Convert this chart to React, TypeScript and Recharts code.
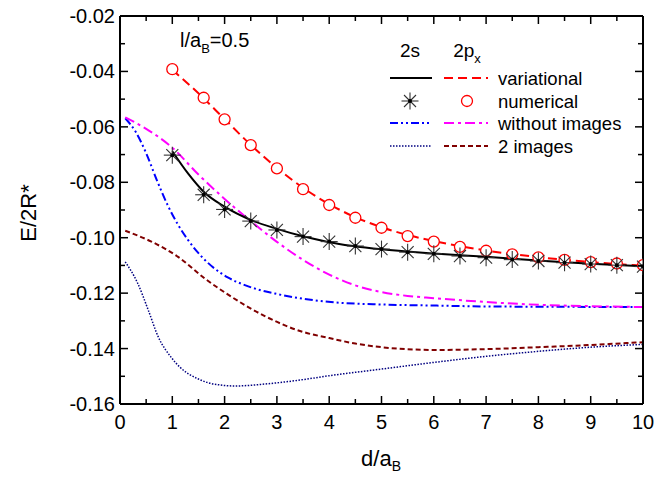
import { ComposedChart, Line, Scatter, XAxis, YAxis } from 'recharts';

// 2s variational (solid black)
const s2VarX = [1, 1.3, 1.6, 2, 2.5, 3, 3.5, 4, 5, 6, 7, 8, 9, 10];
const s2VarY = [-0.0688, -0.0768, -0.0834, -0.0888, -0.0936, -0.0968, -0.0995, -0.1016, -0.1042, -0.1057, -0.1069, -0.1082, -0.1094, -0.1103];

// numerical points, both states share the same d values
const numX = [1, 1.6, 2, 2.5, 3, 3.5, 4, 4.5, 5, 5.5, 6, 6.5, 7, 7.5, 8, 8.5, 9, 9.5, 10];
const s2NumY = [-0.0702, -0.0845, -0.0898, -0.094, -0.0972, -0.0996, -0.1014, -0.103, -0.1041, -0.1052, -0.1058, -0.1066, -0.1072, -0.1079, -0.1084, -0.109, -0.1095, -0.1099, -0.1104];
const pxNumY = [-0.0392, -0.0495, -0.0573, -0.0666, -0.075, -0.0825, -0.0882, -0.0928, -0.0964, -0.0994, -0.1014, -0.1033, -0.1047, -0.106, -0.1071, -0.108, -0.1088, -0.1093, -0.1099];

// 2px variational (red dashed)
const pxVarX = [1, 1.5, 2, 2.5, 3, 3.5, 4, 4.5, 5, 5.5, 6, 7, 8, 9, 10];
const pxVarY = [-0.0394, -0.0479, -0.0572, -0.0665, -0.0748, -0.082, -0.0879, -0.0926, -0.0962, -0.099, -0.1012, -0.1046, -0.107, -0.1088, -0.1101];

// without images
const s2NoImgX = [0.1, 0.3, 0.5, 0.7, 0.9, 1.1, 1.3, 1.56, 1.8, 2.06, 2.4, 2.64, 3, 3.57, 4.21, 4.84, 6.06, 7, 8, 10];
const s2NoImgY = [-0.0569, -0.0618, -0.0695, -0.079, -0.0878, -0.095, -0.1008, -0.1068, -0.111, -0.1143, -0.1172, -0.1187, -0.1203, -0.1222, -0.1235, -0.124, -0.1245, -0.1248, -0.1249, -0.125];
const pxNoImgX = [0.1, 0.5, 1.0, 1.5, 2.0, 2.5, 3.0, 3.5, 4.0, 4.5, 5.0, 5.5, 6.0, 7, 8, 9, 10];
const pxNoImgY = [-0.0566, -0.0607, -0.0675, -0.0772, -0.086, -0.094, -0.1015, -0.108, -0.1133, -0.1172, -0.1196, -0.121, -0.1218, -0.1232, -0.1242, -0.1247, -0.125];

// 2 images
const s2ImgX = [0.1, 0.34, 0.54, 0.73, 0.98, 1.15, 1.3, 1.5, 1.68, 1.9, 2.19, 2.77, 3.5, 4, 5, 6, 7, 8, 9, 10];
const s2ImgY = [-0.1087, -0.1165, -0.1261, -0.1357, -0.1432, -0.1468, -0.149, -0.151, -0.1523, -0.1531, -0.1535, -0.1528, -0.1512, -0.1498, -0.1474, -0.145, -0.1428, -0.141, -0.1395, -0.1385];
const pxImgX = [0.1, 0.6, 1.11, 1.62, 2.13, 2.77, 3.5, 4, 4.5, 5, 6, 7, 8, 9, 10];
const pxImgY = [-0.0975, -0.1014, -0.1069, -0.1147, -0.1213, -0.1283, -0.134, -0.1362, -0.1382, -0.1395, -0.1405, -0.1402, -0.1395, -0.1387, -0.1377];

const xTicks = [0, 0.5, 1, 1.5, 2, 2.5, 3, 3.5, 4, 4.5, 5, 5.5, 6, 6.5, 7, 7.5, 8, 8.5, 9, 9.5, 10];
const yTicks = [-0.16, -0.15, -0.14, -0.13, -0.12, -0.11, -0.1, -0.09, -0.08, -0.07, -0.06, -0.05, -0.04, -0.03, -0.02];
const yMajor = ['-0.16', '-0.14', '-0.12', '-0.10', '-0.08', '-0.06', '-0.04', '-0.02'];

const zip = (xs: number[], ys: number[]) => xs.map((x, i) => ({ x, y: ys[i] }));

const FONT = 'Liberation Sans, Arial, sans-serif';
const isMajorX = (v: number) => Number.isInteger(v);
const yLabel = (v: number) => yMajor.find((s) => Math.abs(parseFloat(s) - v) < 1e-6);

const BottomTick = ({ x, y, payload }: any) => (
    <g>
        <line x1={x} x2={x} y1={y} y2={y - (isMajorX(payload.value) ? 8 : 5)} stroke="#000" strokeWidth={1.5} />
        {isMajorX(payload.value) && (
            <text x={x} y={y + 25} textAnchor="middle" fontSize={20} fontFamily={FONT} fill="#000">
                {payload.value}
            </text>
        )}
    </g>
);
const TopTick = ({ x, y, payload }: any) => (
    <line x1={x} x2={x} y1={y} y2={y + (isMajorX(payload.value) ? 8 : 5)} stroke="#000" strokeWidth={1.5} />
);
const LeftTick = ({ x, y, payload }: any) => {
    const lab = yLabel(payload.value);
    return (
        <g>
            <line x1={x} x2={x + (lab ? 8 : 5)} y1={y} y2={y} stroke="#000" strokeWidth={1.5} />
            {lab && (
                <text x={x - 5} y={y + 7} textAnchor="end" fontSize={20} fontFamily={FONT} fill="#000">
                    {lab}
                </text>
            )}
        </g>
    );
};
const RightTick = ({ x, y, payload }: any) => (
    <line x1={x} x2={x - (yLabel(payload.value) ? 8 : 5)} y1={y} y2={y} stroke="#000" strokeWidth={1.5} />
);

const StarMark = ({ cx, cy }: any) => {
    const r = 8.5;
    const d = r * 0.707;
    return (
        <g stroke="#333" strokeWidth={1.1}>
            <line x1={cx - r} x2={cx + r} y1={cy} y2={cy} />
            <line x1={cx} x2={cx} y1={cy - r} y2={cy + r} />
            <line x1={cx - d} x2={cx + d} y1={cy - d} y2={cy + d} />
            <line x1={cx - d} x2={cx + d} y1={cy + d} y2={cy - d} />
            <circle cx={cx} cy={cy} r={2} fill="#000" stroke="none" />
        </g>
    );
};
const CircleMark = ({ cx, cy }: any) => (
    <circle cx={cx} cy={cy} r={5.5} fill="#fff" stroke="#ff0000" strokeWidth={1.3} />
);

const styles = {
    s2Var: { stroke: '#000', width: 2, dash: undefined as string | undefined },
    pxVar: { stroke: '#ff0000', width: 2, dash: '9 5' },
    s2NoImg: { stroke: '#0000ff', width: 2, dash: '8 3 2 3 2 3' },
    pxNoImg: { stroke: '#ff00ff', width: 2, dash: '10 4 3 4' },
    s2Img: { stroke: '#000080', width: 1.5, dash: '1.5 1.5' },
    pxImg: { stroke: '#800000', width: 2, dash: '5 3' },
};

export default function App() {
    const seg = (x1: number, x2: number, y: number, s: any) => (
        <line x1={x1} x2={x2} y1={y} y2={y} stroke={s.stroke} strokeWidth={s.width} strokeDasharray={s.dash} />
    );
    return (
        <div style={{ position: 'absolute', left: 0, top: 0, width: 669, height: 477, background: '#fff' }}>
            <ComposedChart width={669} height={477} margin={{ top: 15, right: 25, left: 0, bottom: 0 }}>
                <XAxis
                    dataKey="x"
                    type="number"
                    domain={[0, 10]}
                    ticks={xTicks}
                    interval={0}
                    height={73}
                    tickSize={0}
                    tickMargin={0}
                    tickLine={false}
                    tick={<BottomTick />}
                    axisLine={{ stroke: '#000', strokeWidth: 2 }}
                    allowDataOverflow
                />
                {/* top and right axes only draw the frame and inward ticks */}
                <XAxis
                    xAxisId="top"
                    orientation="top"
                    dataKey="x"
                    type="number"
                    domain={[0, 10]}
                    ticks={xTicks}
                    interval={0}
                    height={1}
                    tickSize={0}
                    tickMargin={0}
                    tickLine={false}
                    tick={<TopTick />}
                    axisLine={{ stroke: '#000', strokeWidth: 2 }}
                    allowDataOverflow
                />
                <YAxis
                    type="number"
                    domain={[-0.16, -0.02]}
                    ticks={yTicks}
                    interval={0}
                    width={120}
                    tickSize={0}
                    tickMargin={0}
                    tickLine={false}
                    tick={<LeftTick />}
                    axisLine={{ stroke: '#000', strokeWidth: 2 }}
                    allowDataOverflow
                />
                <YAxis
                    yAxisId="right"
                    orientation="right"
                    type="number"
                    domain={[-0.16, -0.02]}
                    ticks={yTicks}
                    interval={0}
                    width={1}
                    tickSize={0}
                    tickMargin={0}
                    tickLine={false}
                    tick={<RightTick />}
                    axisLine={{ stroke: '#000', strokeWidth: 2 }}
                    allowDataOverflow
                />
                <Line data={zip(s2ImgX, s2ImgY)} dataKey="y" xAxisId="top" yAxisId="right" type="monotone" dot={false} stroke={styles.s2Img.stroke} strokeWidth={styles.s2Img.width} strokeDasharray={styles.s2Img.dash} isAnimationActive={false} />
                <Line data={zip(pxImgX, pxImgY)} dataKey="y" type="monotone" dot={false} stroke={styles.pxImg.stroke} strokeWidth={styles.pxImg.width} strokeDasharray={styles.pxImg.dash} isAnimationActive={false} />
                <Line data={zip(s2NoImgX, s2NoImgY)} dataKey="y" type="monotone" dot={false} stroke={styles.s2NoImg.stroke} strokeWidth={styles.s2NoImg.width} strokeDasharray={styles.s2NoImg.dash} isAnimationActive={false} />
                <Line data={zip(pxNoImgX, pxNoImgY)} dataKey="y" type="monotone" dot={false} stroke={styles.pxNoImg.stroke} strokeWidth={styles.pxNoImg.width} strokeDasharray={styles.pxNoImg.dash} isAnimationActive={false} />
                <Line data={zip(pxVarX, pxVarY)} dataKey="y" type="monotone" dot={false} stroke={styles.pxVar.stroke} strokeWidth={styles.pxVar.width} strokeDasharray={styles.pxVar.dash} isAnimationActive={false} />
                <Scatter data={zip(numX, pxNumY)} dataKey="y" shape={<CircleMark />} isAnimationActive={false} />
                <Scatter data={zip(numX, s2NumY)} dataKey="y" shape={<StarMark />} isAnimationActive={false} />
                <Line data={zip(s2VarX, s2VarY)} dataKey="y" type="monotone" dot={false} stroke={styles.s2Var.stroke} strokeWidth={styles.s2Var.width} isAnimationActive={false} />
            </ComposedChart>

            {/* annotation, axis titles and the two-column legend */}
            <svg width={669} height={477} style={{ position: 'absolute', left: 0, top: 0, pointerEvents: 'none' }} fontFamily={FONT} fill="#000">
                <text x={180} y={47} fontSize={20}>
                    l/a<tspan fontSize={13} dy={6}>B</tspan><tspan dy={-6}>=0.5</tspan>
                </text>
                <text x={36} y={213} fontSize={22} textAnchor="middle" transform="rotate(-90 36 213)">E/2R*</text>
                <text x={381} y={466} fontSize={22} textAnchor="middle">
                    d/a<tspan fontSize={14} dy={5}>B</tspan>
                </text>

                <text x={410} y={57} fontSize={19} textAnchor="middle">2s</text>
                <text x={467} y={57} fontSize={19} textAnchor="middle">
                    2p<tspan fontSize={13} dy={6}>x</tspan>
                </text>

                {seg(390, 432, 78, styles.s2Var)}
                {seg(444, 488, 78, styles.pxVar)}
                <text x={498} y={85} fontSize={18.5}>variational</text>

                <StarMark cx={410} cy={101} />
                <CircleMark cx={467} cy={101} />
                <text x={498} y={108} fontSize={18.5}>numerical</text>

                {seg(390, 432, 123, styles.s2NoImg)}
                {seg(444, 488, 123, styles.pxNoImg)}
                <text x={498} y={130} fontSize={18.5}>without images</text>

                {seg(390, 432, 146, styles.s2Img)}
                {seg(444, 488, 146, styles.pxImg)}
                <text x={498} y={153} fontSize={18.5}>2 images</text>
            </svg>
        </div>
    );
}
